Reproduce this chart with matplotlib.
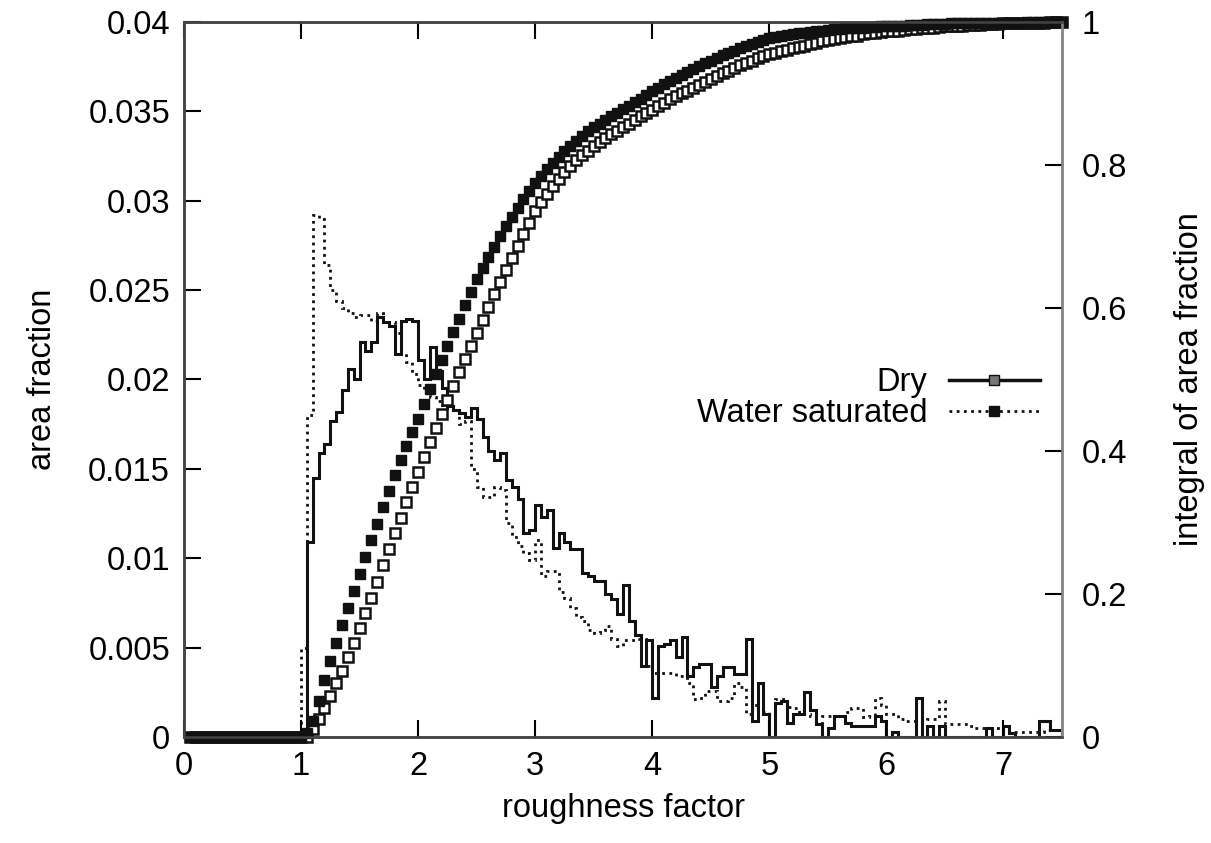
import numpy as np
import matplotlib
matplotlib.use('Agg')
import matplotlib.pyplot as plt
from matplotlib.lines import Line2D

plt.rcParams['font.family'] = ['Liberation Sans', 'DejaVu Sans']
plt.rcParams['font.size'] = 23.5

# histogram bins of 0.05 from 0 to 7.5; nothing below 1.0
bin_width = 0.05
n_empty = 20

# area fraction per bin, starting at roughness 1.00
dry = [
    0.0000, 0.0109, 0.0145, 0.0159, 0.0164, 0.0177, 0.0182, 0.0194, 0.0206, 0.0200,
    0.0221, 0.0216, 0.0221, 0.0235, 0.0232, 0.0230, 0.0214, 0.0233, 0.0234, 0.0233,
    0.0211, 0.0200, 0.0218, 0.0205, 0.0195, 0.0185, 0.0183, 0.0181, 0.0179, 0.0184,
    0.0178, 0.0168, 0.0160, 0.0155, 0.0159, 0.0144, 0.0140, 0.0133, 0.0114, 0.0116,
    0.0130, 0.0123, 0.0127, 0.0106, 0.0114, 0.0109, 0.0105, 0.0105, 0.0092, 0.0090,
    0.0087, 0.0087, 0.0080, 0.0077, 0.0069, 0.0085, 0.0065, 0.0057, 0.0040, 0.0054,
    0.0022, 0.0051, 0.0052, 0.0054, 0.0045, 0.0056, 0.0034, 0.0039, 0.0041, 0.0041,
    0.0028, 0.0034, 0.0039, 0.0039, 0.0035, 0.0035, 0.0055, 0.0009, 0.0030, 0.0013,
    0.0000, 0.0019, 0.0020, 0.0008, 0.0013, 0.0013, 0.0025, 0.0015, 0.0007, 0.0000,
    0.0005, 0.0012, 0.0012, 0.0008, 0.0006, 0.0006, 0.0006, 0.0006, 0.0012, 0.0009,
    0.0000, 0.0003, 0.0000, 0.0000, 0.0000, 0.0022, 0.0000, 0.0006, 0.0000, 0.0006,
    0.0000, 0.0000, 0.0000, 0.0000, 0.0000, 0.0000, 0.0000, 0.0005, 0.0000, 0.0000,
    0.0006, 0.0002, 0.0000, 0.0000, 0.0000, 0.0000, 0.0009, 0.0009, 0.0004, 0.0004,
]
water = [
    0.0050, 0.0180, 0.0292, 0.0290, 0.0264, 0.0250, 0.0244, 0.0240, 0.0237, 0.0235,
    0.0236, 0.0236, 0.0233, 0.0237, 0.0232, 0.0232, 0.0226, 0.0215, 0.0210, 0.0203,
    0.0197, 0.0193, 0.0190, 0.0188, 0.0186, 0.0184, 0.0183, 0.0175, 0.0177, 0.0150,
    0.0140, 0.0134, 0.0134, 0.0140, 0.0138, 0.0120, 0.0112, 0.0107, 0.0103, 0.0099,
    0.0110, 0.0090, 0.0093, 0.0093, 0.0081, 0.0078, 0.0072, 0.0067, 0.0065, 0.0060,
    0.0058, 0.0060, 0.0062, 0.0055, 0.0051, 0.0054, 0.0054, 0.0055, 0.0055, 0.0040,
    0.0036, 0.0036, 0.0036, 0.0036, 0.0034, 0.0034, 0.0030, 0.0021, 0.0022, 0.0026,
    0.0026, 0.0020, 0.0020, 0.0022, 0.0030, 0.0028, 0.0013, 0.0018, 0.0014, 0.0014,
    0.0009, 0.0021, 0.0021, 0.0017, 0.0016, 0.0014, 0.0013, 0.0012, 0.0007, 0.0012,
    0.0012, 0.0012, 0.0012, 0.0014, 0.0016, 0.0016, 0.0011, 0.0012, 0.0022, 0.0018,
    0.0013, 0.0013, 0.0010, 0.0009, 0.0009, 0.0009, 0.0009, 0.0010, 0.0010, 0.0020,
    0.0007, 0.0007, 0.0007, 0.0007, 0.0006, 0.0005, 0.0005, 0.0005, 0.0005, 0.0004,
    0.0004, 0.0003, 0.0003, 0.0003, 0.0003, 0.0003, 0.0003, 0.0004, 0.0004, 0.0004,
]

# integral of area fraction, read at every 0.05 from roughness 1.05 to 7.50
dry_int = [
    0.000, 0.011, 0.025, 0.041, 0.058, 0.075, 0.093, 0.112, 0.132, 0.153,
    0.174, 0.195, 0.217, 0.240, 0.263, 0.285, 0.306, 0.328, 0.349, 0.370,
    0.391, 0.412, 0.432, 0.452, 0.472, 0.491, 0.510, 0.529, 0.547, 0.565,
    0.583, 0.601, 0.619, 0.636, 0.653, 0.670, 0.687, 0.703, 0.719, 0.735,
    0.748, 0.760, 0.771, 0.781, 0.790, 0.799, 0.807, 0.814, 0.820, 0.826,
    0.832, 0.838, 0.843, 0.848, 0.853, 0.858, 0.863, 0.868, 0.873, 0.877,
    0.882, 0.887, 0.892, 0.896, 0.900, 0.904, 0.908, 0.912, 0.916, 0.920,
    0.924, 0.928, 0.932, 0.936, 0.940, 0.943, 0.946, 0.949, 0.952, 0.955,
    0.957, 0.959, 0.961, 0.963, 0.965, 0.967, 0.969, 0.971, 0.973, 0.975,
    0.976, 0.978, 0.979, 0.980, 0.981, 0.983, 0.984, 0.985, 0.986, 0.987,
    0.988, 0.988, 0.989, 0.990, 0.990, 0.991, 0.992, 0.992, 0.993, 0.994,
    0.994, 0.995, 0.995, 0.996, 0.996, 0.996, 0.997, 0.997, 0.997, 0.998,
    0.998, 0.998, 0.998, 0.999, 0.999, 0.999, 0.999, 1.000, 1.000, 1.000,
]
water_int = [
    0.005, 0.023, 0.051, 0.080, 0.106, 0.131, 0.156, 0.180, 0.204, 0.228,
    0.252, 0.275, 0.298, 0.321, 0.344, 0.366, 0.387, 0.407, 0.426, 0.445,
    0.466, 0.487, 0.507, 0.527, 0.547, 0.566, 0.585, 0.604, 0.622, 0.640,
    0.656, 0.671, 0.686, 0.700, 0.714, 0.727, 0.740, 0.752, 0.764, 0.775,
    0.785, 0.794, 0.803, 0.811, 0.819, 0.827, 0.834, 0.841, 0.847, 0.853,
    0.858, 0.863, 0.868, 0.873, 0.878, 0.883, 0.888, 0.893, 0.898, 0.903,
    0.908, 0.913, 0.918, 0.922, 0.926, 0.930, 0.934, 0.938, 0.942, 0.946,
    0.950, 0.954, 0.957, 0.960, 0.963, 0.966, 0.969, 0.972, 0.975, 0.977,
    0.979, 0.980, 0.982, 0.983, 0.984, 0.985, 0.986, 0.987, 0.988, 0.989,
    0.990, 0.990, 0.991, 0.991, 0.992, 0.992, 0.993, 0.993, 0.994, 0.994,
    0.995, 0.995, 0.995, 0.996, 0.996, 0.996, 0.997, 0.997, 0.997, 0.997,
    0.998, 0.998, 0.998, 0.998, 0.998, 0.999, 0.999, 0.999, 0.999, 0.999,
    0.999, 0.999, 0.999, 1.000, 1.000, 1.000, 1.000, 1.000, 1.000, 1.000,
]

x_ticks = [0, 1, 2, 3, 4, 5, 6, 7]
y_ticks = [0, 0.005, 0.01, 0.015, 0.02, 0.025, 0.03, 0.035, 0.04]
y_labels = ['0', '0.005', '0.01', '0.015', '0.02', '0.025', '0.03', '0.035', '0.04']
y2_ticks = [0, 0.2, 0.4, 0.6, 0.8, 1]
y2_labels = ['0', '0.2', '0.4', '0.6', '0.8', '1']

dry_all = np.concatenate([np.zeros(n_empty), dry])
water_all = np.concatenate([np.zeros(n_empty), water])
edges = np.arange(len(dry_all) + 1) * bin_width
dry_int_all = np.concatenate([np.zeros(n_empty), dry_int])
water_int_all = np.concatenate([np.zeros(n_empty), water_int])
x_int = edges[1:]

fig = plt.figure(figsize=(12.11, 8.43), dpi=100)
ax = fig.add_axes([184 / 1211, 1 - 737 / 843, 878 / 1211, 715 / 843])
ax2 = ax.twinx()

dotted = (0, (1, 1.6))
ax.stairs(dry_all, edges, color='#111111', lw=2.2)
ax.stairs(water_all, edges, color='#111111', lw=2, linestyle=dotted)

ax2.plot(x_int, dry_int_all, ls='none', marker='s', ms=7.5, mfc='white',
         mec='#111111', mew=1.8, clip_on=False)
ax2.plot(x_int, water_int_all, ls='none', marker='s', ms=7.5, mfc='#111111',
         mec='#111111', clip_on=False)

ax.set_xlim(0, 7.5)
ax.set_ylim(0, 0.04)
ax2.set_ylim(0, 1)
ax.set_xticks(x_ticks)
ax.set_yticks(y_ticks, y_labels)
ax2.set_yticks(y2_ticks, y2_labels)

ax.tick_params(direction='in', length=12, width=1.5, top=True, right=False, pad=10)
ax2.tick_params(direction='in', length=12, width=1.5, pad=14)
for a in (ax, ax2):
    for name, s in a.spines.items():
        s.set_linewidth(1.8)
        s.set_color('#888888' if name == 'right' else '#444444')

ax.set_xlabel('roughness factor', labelpad=8)
ax.set_ylabel('area fraction', labelpad=22)
ax2.set_ylabel('integral of area fraction', labelpad=34)

handles = [
    Line2D([], [], color='#111111', lw=2.5, marker='s', ms=7.5, mfc='#777777', mec='#111111'),
    Line2D([], [], color='#111111', lw=2, linestyle=dotted, marker='s', ms=7.5,
           mfc='#111111', mec='#111111'),
]
ax2.legend(handles, ['Dry', 'Water saturated'], loc='center right',
           bbox_to_anchor=(1040 / 1211, 1 - 398 / 843), bbox_transform=fig.transFigure,
           frameon=False, markerfirst=False, handlelength=2.8, handletextpad=0.65,
           labelspacing=0.0, borderpad=0, borderaxespad=0)

fig.savefig('out.png', dpi=100)
